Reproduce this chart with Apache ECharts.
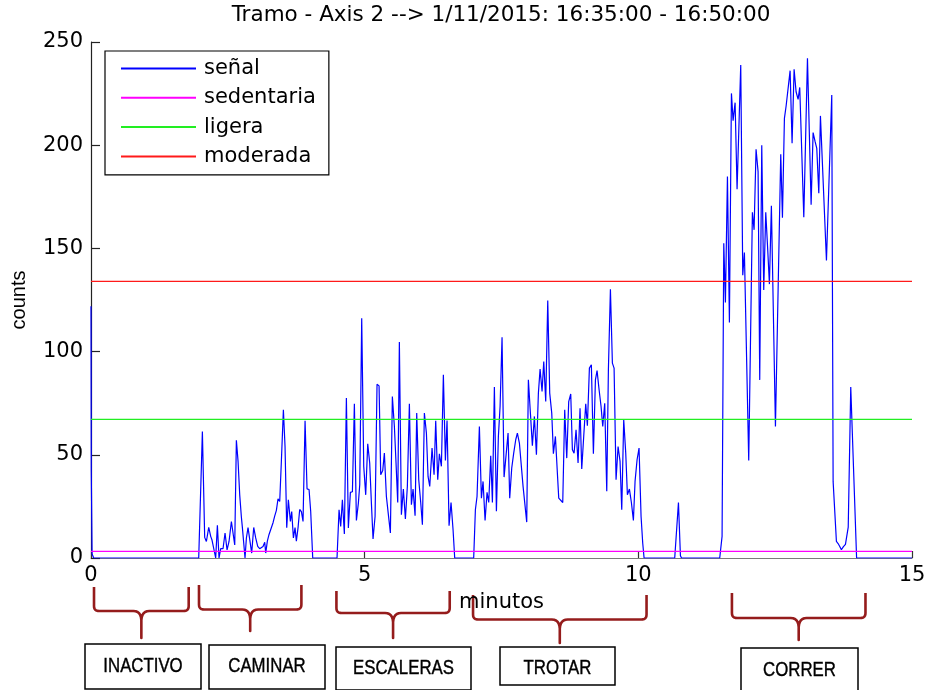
<!DOCTYPE html>
<html><head><meta charset="utf-8">
<script src="https://cdn.jsdelivr.net/npm/echarts@6/dist/echarts.min.js"></script>
<style>html,body{margin:0;padding:0;background:#fff}#c{width:929px;height:690px}</style>
</head><body><div id="c"></div>
<script>
// ---------------- data ----------------
const titleText = 'Tramo - Axis 2 --> 1/11/2015: 16:35:00 - 16:50:00';
const xName = 'minutos';
const yName = 'counts';
const xMin = 0, xMax = 15, xStep = 5;
const yMin = 0, yMax = 250, yStep = 50;

const signalName = 'señal';
const minutes = [
  0, 0.005, 0.02, 0.05,
  1.968, 2.035, 2.077, 2.108, 2.151, 2.187, 2.211, 2.242, 2.278, 2.309, 2.339, 2.370, 2.412, 2.449, 2.486, 2.522,
  2.565, 2.595, 2.626, 2.656, 2.687, 2.717, 2.747, 2.766, 2.790, 2.814, 2.839, 2.869, 2.900, 2.936, 2.973, 3.009,
  3.046, 3.082, 3.113, 3.143, 3.174, 3.192, 3.222, 3.253, 3.283, 3.326, 3.356, 3.387, 3.417, 3.448, 3.478, 3.515,
  3.545, 3.576, 3.606, 3.643, 3.667, 3.698, 3.728, 3.752, 3.783, 3.813, 3.844, 3.874, 3.911, 3.947, 3.984, 4.014, 4.051,
  4.495, 4.532, 4.562, 4.593, 4.629, 4.666, 4.702, 4.739, 4.776, 4.812, 4.849, 4.885, 4.910, 4.946, 4.983, 5.019,
  5.056, 5.092, 5.123, 5.153, 5.190, 5.226, 5.263, 5.293, 5.330, 5.360, 5.397, 5.433, 5.470, 5.506, 5.543, 5.573,
  5.604, 5.634, 5.671, 5.707, 5.744, 5.780, 5.817, 5.854, 5.884, 5.921, 5.951, 5.988, 6.024, 6.055, 6.091, 6.128,
  6.158, 6.189, 6.231, 6.268, 6.298, 6.335, 6.365, 6.402, 6.438, 6.475, 6.505, 6.542, 6.578, 6.615, 6.645,
  6.992, 7.023, 7.053, 7.096, 7.133, 7.163, 7.200, 7.236, 7.267, 7.303, 7.334, 7.370, 7.407, 7.443, 7.474, 7.510,
  7.547, 7.583, 7.620, 7.650, 7.687, 7.723, 7.760, 7.790, 7.827, 7.863, 7.894, 7.924, 7.961, 7.991, 8.028, 8.064,
  8.101, 8.138, 8.174, 8.205, 8.241, 8.272, 8.308, 8.345, 8.381, 8.418, 8.448, 8.485, 8.521, 8.546, 8.582, 8.619,
  8.655, 8.692, 8.728, 8.765, 8.795, 8.826, 8.862, 8.899, 8.935, 8.966, 9.002, 9.039, 9.069, 9.106, 9.142, 9.179,
  9.216, 9.246, 9.283, 9.319, 9.350, 9.386, 9.423, 9.453, 9.490, 9.526, 9.557, 9.593, 9.630, 9.666, 9.697, 9.733,
  9.770, 9.800, 9.837, 9.873, 9.910, 9.940, 9.977, 10.013, 10.050, 10.080, 10.105,
  10.665, 10.733, 10.769, 10.790,
  11.487, 11.530, 11.561, 11.591, 11.628, 11.664, 11.701, 11.731, 11.768, 11.804, 11.871, 11.908, 11.938, 12.017,
  12.084, 12.115, 12.151, 12.188, 12.218, 12.255, 12.291, 12.328, 12.364, 12.395, 12.431, 12.505, 12.602, 12.633,
  12.669, 12.700, 12.730, 12.773, 12.809, 12.846, 12.882, 12.919, 12.949, 13.023, 13.090, 13.157, 13.193, 13.230,
  13.260, 13.297, 13.327, 13.437, 13.534, 13.559, 13.619, 13.650, 13.680, 13.710, 13.747, 13.784, 13.814, 13.835,
  13.881, 13.988, 15
];
const counts = [
  122, 42, 2, 0,
  0, 61.3, 10, 8, 14.8, 10.5, 8.7, 9.4, 0, 15.8, 0, 4.5, 4.5, 12.1, 3.9, 8,
  17.7, 16.9, 6.3, 57, 46.8, 30.6, 20, 14.7, 14.4, 0, 9.7, 14.7, 13.9, 2.4, 14.8, 9.7,
  5.6, 4.5, 4.5, 5.6, 7.6, 2.4, 8.2, 11.4, 11.8, 17.1, 20.3, 23.1, 28.7, 27.4, 46.8, 71.8,
  54, 14.7, 28.2, 17.7, 22.5, 9.7, 14.7, 8.1, 14.7, 23.5, 22.5, 17.7, 66.5, 33.5, 33.2, 22.5, 0,
  0, 23.4, 15.3, 28.2, 11.6, 77.5, 14.5, 31.8, 32.1, 74.7, 18.2, 26.6, 35.5, 116.2, 44.4, 30.6,
  55.3, 46, 26.6, 9.2, 20.1, 84.2, 83.4, 40.3, 42.4, 50.8, 29.8, 21, 12.1, 78.2, 63.7, 46,
  26.9, 104.6, 21, 33.4, 18.9, 34.7, 74.7, 25.8, 33.4, 20.5, 70.2, 37.9, 26.9, 16.1, 70.2, 60.5,
  39.5, 34.7, 53.3, 40.3, 66.5, 37.9, 50.5, 44.4, 88.8, 47.3, 66.6, 15.6, 26.9, 13.7, 0,
  0, 23.4, 29.8, 63.7, 29, 37.1, 18.2, 31.8, 26.9, 49.5, 26.9, 82.8, 22.6, 58.9, 73.4, 107,
  39.2, 39.2, 60.5, 29, 43.6, 50.8, 57.3, 60.5, 55.7, 44.4, 34.7, 34.4, 17.4, 86.3, 70.2, 54.4,
  68.6, 50, 79.9, 91.5, 80.7, 95.2, 75.8, 124.7, 79.9, 70.2, 50.5, 58.9, 41.1, 29, 29, 26.9,
  71.8, 48.4, 75.8, 79.5, 52.4, 50.8, 62.1, 46, 72.6, 43.1, 58.9, 74.7, 64.1, 92, 93.6, 50.5,
  86.3, 90.8, 81.5, 73.4, 63.7, 75, 32.3, 91.2, 130.2, 94.4, 92, 37.9, 54, 46.8, 23.4, 67,
  50.8, 30.6, 33.4, 26.9, 18.2, 37.1, 47.6, 53.3, 20.1, 7.3, 0,
  0, 26.9, 1.1, 0,
  0, 10.5, 152.5, 123.8, 184.8, 114.1, 225.1, 211.9, 220.6, 178.7, 238.9, 137, 148, 47.3,
  167.5, 159, 198, 187.2, 86.3, 200, 129.9, 167.5, 149.3, 132.7, 170.7, 63.7, 195.6, 164.9,
  213, 219, 219.5, 236.1, 201, 236.8, 225.9, 222.2, 228, 165.1, 242.1, 171.1, 206.1, 201.7,
  198.5, 176.7, 214.2, 144.1, 224.3, 37, 8, 7, 5.6, 4, 5.5, 6.6, 7, 15,
  82.8, 0, 0
];

const thresholdNames = ['sedentaria', 'ligera', 'moderada'];
const thresholdValues = [3.2, 67.2, 134];

const activityNames = ['INACTIVO', 'CAMINAR', 'ESCALERAS', 'TROTAR', 'CORRER'];
const activityStart = [0.055, 1.973, 4.484, 6.98, 11.71];
const activityEnd = [1.785, 3.844, 6.554, 10.15, 14.15];

// ---------------- styles / layout ----------------
const FONT = 'DejaVu Sans';
const signalColor = '#0000ff';
const thresholdColors = ['#ff00ff', '#22ee22', '#ff1a1a'];
const braceColor = '#951c1c';
// per brace: [top of ends, horizontal bar y, tip y]
const braceY = [[587, 611, 638], [585, 609.5, 631], [591, 613, 638], [595, 619.5, 643], [593, 618, 640]];
// per box: [x0, y0, x1, y1, text centre y]
const boxRect = [[85, 644, 201, 689, 666], [209, 645, 325, 689, 666.5], [336, 647, 471, 690, 668],
                 [500, 647, 615, 685, 668], [741, 648, 858, 694, 670.5]];

const chart = echarts.init(document.getElementById('c'), null, {renderer: 'canvas'});

const signalData = minutes.map((t, i) => [t, counts[i]]);
const series = [{
  name: signalName, type: 'line', data: signalData, symbol: 'none',
  lineStyle: {width: 1.2, color: signalColor}, itemStyle: {color: signalColor},
  emphasis: {disabled: true}, silent: true, z: 2
}];
thresholdNames.forEach((n, i) => {
  series.push({
    name: n, type: 'line', symbol: 'none', silent: true, z: 3,
    data: [[xMin, thresholdValues[i]], [xMax, thresholdValues[i]]],
    lineStyle: {width: 1.2, color: thresholdColors[i]}, itemStyle: {color: thresholdColors[i]},
    emphasis: {disabled: true}
  });
});

chart.setOption({
  animation: false,
  backgroundColor: '#fff',
  title: {
    text: titleText, left: 501, top: 4, textAlign: 'center', padding: 0,
    textStyle: {fontFamily: FONT, fontSize: 21.5, fontWeight: 'normal', color: '#000'}
  },
  legend: {
    orient: 'vertical', left: 105, top: 51,
    padding: [7, 13, 8, 15], itemGap: 8.3, itemWidth: 75, itemHeight: 20,
    borderColor: '#000', borderWidth: 1.2, backgroundColor: '#fff',
    data: [signalName].concat(thresholdNames),
    itemStyle: {opacity: 0},
    textStyle: {fontFamily: FONT, fontSize: 21, lineHeight: 20, color: '#000', padding: [0, 0, 0, 3]},
    selectedMode: false
  },
  grid: {left: 91, right: 17, top: 42, bottom: 132, containLabel: false},
  xAxis: {
    type: 'value', min: xMin, max: xMax, interval: xStep,
    name: xName, nameLocation: 'middle', nameGap: 34,
    nameTextStyle: {fontFamily: FONT, fontSize: 21, color: '#000'},
    axisLine: {onZero: false, lineStyle: {color: '#7a7a7a', width: 1.2}},
    axisTick: {inside: true, length: 7, lineStyle: {color: '#333', width: 1.2}},
    axisLabel: {margin: 7, fontFamily: FONT, fontSize: 21, color: '#000'},
    splitLine: {show: false}
  },
  yAxis: {
    type: 'value', min: yMin, max: yMax, interval: yStep,
    name: yName, nameLocation: 'middle', nameGap: 62, nameRotate: 90,
    nameTextStyle: {fontFamily: 'Liberation Sans', fontSize: 20, color: '#000'},
    axisLine: {show: true, lineStyle: {color: '#222', width: 1.2}},
    axisTick: {show: true, inside: true, length: 9, lineStyle: {color: '#222', width: 1.2}},
    axisLabel: {margin: 8, fontFamily: FONT, fontSize: 21, color: '#000'},
    splitLine: {show: false}
  },
  series: series
});

// quadratic curve sampled into polyline points (annotation shape only)
function quad(p0, c, p1, n) {
  const pts = [];
  for (let k = 1; k <= n; k++) {
    const s = k / n, a = (1 - s) * (1 - s), b = 2 * (1 - s) * s, d = s * s;
    pts.push([a * p0[0] + b * c[0] + d * p1[0], a * p0[1] + b * c[1] + d * p1[1]]);
  }
  return pts;
}

// annotations under the axis (activity braces and labels)
const graphics = [];
activityNames.forEach((name, i) => {
  const L = chart.convertToPixel({xAxisIndex: 0}, activityStart[i]);
  const R = chart.convertToPixel({xAxisIndex: 0}, activityEnd[i]);
  const M = (L + R) / 2;
  const [top, H, tip] = braceY[i];
  const r = 5, f = 8, fd = 9;
  let pts = [[L, top], [L, H - r]];
  pts = pts.concat(quad([L, H - r], [L, H], [L + r, H], 6));
  pts.push([M - f, H]);
  pts = pts.concat(quad([M - f, H], [M - 0.5, H], [M, H + fd], 6));
  pts.push([M, tip]);
  pts.push([M, H + fd]);
  pts = pts.concat(quad([M, H + fd], [M + 0.5, H], [M + f, H], 6));
  pts.push([R - r, H]);
  pts = pts.concat(quad([R - r, H], [R, H], [R, H - r], 6));
  pts.push([R, top]);
  graphics.push({
    type: 'polyline', shape: {points: pts}, silent: true,
    style: {fill: null, stroke: braceColor, lineWidth: 2.6, lineJoin: 'round'}
  });
  const [x0, y0, x1, y1, ty] = boxRect[i];
  graphics.push({
    type: 'rect', shape: {x: x0, y: y0, width: x1 - x0, height: y1 - y0}, silent: true,
    style: {fill: '#fff', stroke: '#000', lineWidth: 1.5}
  });
  graphics.push({
    type: 'text', silent: true, x: (x0 + x1) / 2, y: ty, scaleX: 0.84,
    style: {text: name, fill: '#000', align: 'center', verticalAlign: 'middle',
            font: "20px 'Liberation Sans', Arial, sans-serif", stroke: '#000', lineWidth: 0.4}
  });
});
chart.setOption({graphic: graphics});
</script></body></html>
